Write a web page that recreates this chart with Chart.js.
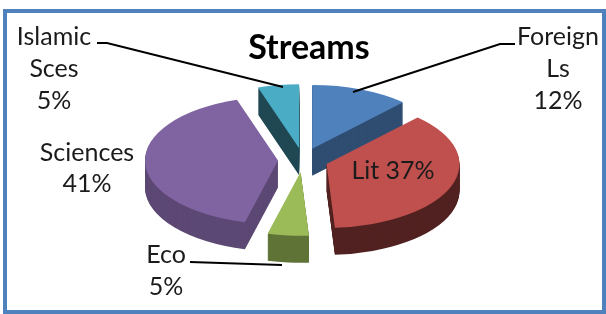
<!DOCTYPE html>
<html><head><meta charset="utf-8">
<script src="https://cdn.jsdelivr.net/npm/chart.js@4.4.1/dist/chart.umd.min.js"></script>
<style>
html,body{margin:0;padding:0;background:#fff;}
#wrap{position:relative;width:606px;height:314px;overflow:hidden;background:#fff;}
#frame{position:absolute;left:3px;top:9px;width:603px;height:305px;box-sizing:border-box;border:4px solid #4F81BD;}
canvas{position:absolute;left:0;top:0;}
</style></head><body>
<div id="wrap"><div id="frame"></div><canvas id="c" width="606" height="314"></canvas></div>
<script>
// ---- data ----
const categories = ['Foreign Ls', 'Lit', 'Eco', 'Sciences', 'Islamic Sces'];
const shares = [12, 37, 5, 41, 5];
const labelLines = [['Foreign', 'Ls'], ['Lit'], ['Eco'], ['Sciences'], ['Islamic', 'Sces']];
const chartTitle = 'Streams';

// ---- styles ----
const topColors = ['#4F81BD', '#C0504D', '#9BBB59', '#8064A2', '#4BACC6'];
const sideBrightness = [0.6, 0.42, 0.62, 0.72, 0.42];
const explode = [25, 25, 25, 25, 25];
const tilt = 0.48;
const depth = 27;
const labelFont = '25px Lato';
const labelColor = '#1b1b1b';
const lineGap = 32;
const labelStyle = [
  {x: 558, y: 45, inline: false, lead: [[515, 44], [500, 44], [353, 92]]},
  {x: 393, y: 179, inline: true, lead: null},
  {x: 166, y: 263, inline: false, lead: [[190, 262], [282, 265]]},
  {x: 87, y: 161, inline: false, lead: null, gap: 31},
  {x: 54, y: 45, inline: false, lead: [[97, 43], [107, 43], [283, 87]]}
];

const pie3d = {
  id: 'pie3d',
  beforeDatasetsDraw(chart) {
    const ctx = chart.ctx;
    const meta = chart.getDatasetMeta(0);
    const arcs = meta.data.map((a, i) => ({a, i, mid: (a.startAngle + a.endAngle) / 2}));
    arcs.sort((p, q) => Math.sin(p.mid) - Math.sin(q.mid));
    for (const {a, i, mid} of arcs) {
      const ex = explode[i] * Math.cos(mid), ey = explode[i] * Math.sin(mid);
      const cx = a.x, cy = a.y;
      const place = (dy) => {
        ctx.translate(0, dy);
        ctx.translate(cx, cy); ctx.scale(1, tilt); ctx.translate(-cx, -cy);
        ctx.translate(ex, ey);
      };
      for (let d = depth; d >= 1; d--) {
        ctx.save(); place(d);
        ctx.filter = 'brightness(' + sideBrightness[i] + ')';
        a.draw(ctx);
        ctx.restore();
      }
      ctx.save(); place(0); a.draw(ctx); ctx.restore();
    }
    return false;
  },
  afterDraw(chart) {
    const ctx = chart.ctx;
    ctx.save();
    // leader lines
    ctx.strokeStyle = '#000';
    ctx.lineWidth = 2;
    labelStyle.forEach(s => {
      if (!s.lead) return;
      ctx.beginPath();
      s.lead.forEach((p, k) => k ? ctx.lineTo(p[0], p[1]) : ctx.moveTo(p[0], p[1]));
      ctx.stroke();
    });
    // title
    ctx.fillStyle = '#000';
    ctx.textAlign = 'center';
    ctx.textBaseline = 'alphabetic';
    ctx.font = 'bold 34px Lato';
    ctx.fillText(chartTitle, 309, 59);
    // labels
    ctx.font = labelFont;
    ctx.fillStyle = labelColor;
    labelStyle.forEach((s, i) => {
      const pct = shares[i] + '%';
      const lines = s.inline ? [labelLines[i].join(' ') + ' ' + pct] : labelLines[i].concat([pct]);
      const g = s.gap || lineGap;
      lines.forEach((t, k) => ctx.fillText(t, s.x, s.y + k * g));
    });
    ctx.restore();
  }
};

new Chart(document.getElementById('c'), {
  type: 'pie',
  data: {
    labels: categories,
    datasets: [{
      data: shares,
      backgroundColor: topColors,
      borderWidth: 0,
      offset: 0
    }]
  },
  options: {
    responsive: false,
    animation: false,
    radius: 133,
    layout: {padding: {top: 6, bottom: 0, left: 0, right: 0}},
    plugins: {legend: {display: false}, tooltip: {enabled: false}, title: {display: false}}
  },
  plugins: [pie3d]
});
</script>
</body></html>
